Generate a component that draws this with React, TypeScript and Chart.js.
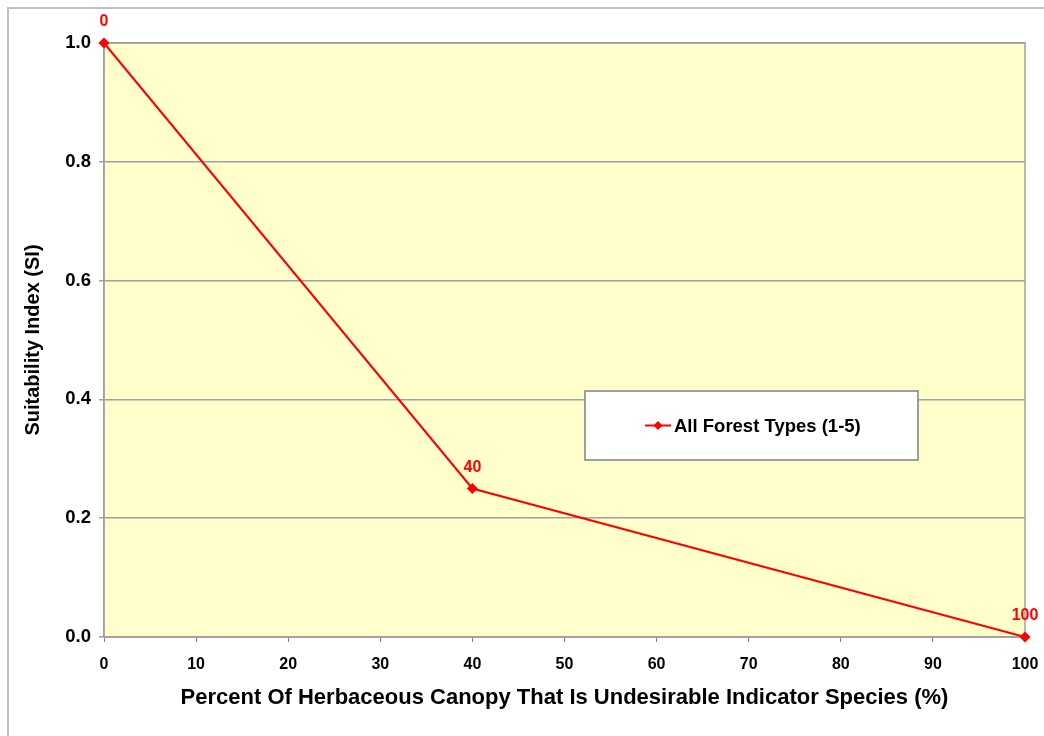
import React, { useEffect, useRef } from "react";
import { Chart, registerables } from "chart.js";

Chart.register(...registerables);

const xValues = [0, 40, 100];
const siValues = [1.0, 0.25, 0.0];
const pointLabels = ["0", "40", "100"];
const seriesName = "All Forest Types (1-5)";
const xTitle = "Percent Of Herbaceous Canopy That Is Undesirable Indicator Species (%)";
const yTitle = "Suitability Index (SI)";

const FONT = "Arial, 'Liberation Sans', sans-serif";
const RED = "#ff0000";

const bgPlugin = {
  id: "plotBg",
  beforeDraw(chart: any) {
    const { ctx, chartArea: a } = chart;
    ctx.save();
    ctx.fillStyle = "#ffffcc";
    ctx.fillRect(a.left, a.top, a.right - a.left, a.bottom - a.top);
    ctx.restore();
  },
  beforeDatasetsDraw(chart: any) {
    const { ctx, chartArea: a } = chart;
    ctx.save();
    ctx.strokeStyle = "#a0a0a0";
    ctx.lineWidth = 1.5;
    ctx.strokeRect(a.left, a.top, a.right - a.left, a.bottom - a.top);
    ctx.restore();
  },
};

const labelPlugin = {
  id: "pointLabels",
  afterDraw(chart: any) {
    const { ctx } = chart;
    const meta = chart.getDatasetMeta(0);
    ctx.save();
    ctx.fillStyle = RED;
    ctx.font = `bold 16px ${FONT}`;
    ctx.textAlign = "center";
    ctx.textBaseline = "bottom";
    meta.data.forEach((p: any, i: number) => {
      ctx.fillText(pointLabels[i], p.x, p.y - 13);
    });
    // legend box
    const a = chart.chartArea;
    const bx = a.left + 481;
    const by = a.top + 348;
    const bw = 333;
    const bh = 69;
    ctx.fillStyle = "#ffffff";
    ctx.fillRect(bx, by, bw, bh);
    ctx.strokeStyle = "#808080";
    ctx.lineWidth = 1.5;
    ctx.strokeRect(bx, by, bw, bh);
    const ly = by + bh / 2;
    ctx.strokeStyle = RED;
    ctx.lineWidth = 2;
    ctx.beginPath();
    ctx.moveTo(bx + 60, ly);
    ctx.lineTo(bx + 86, ly);
    ctx.stroke();
    ctx.fillStyle = RED;
    ctx.beginPath();
    const cx = bx + 73;
    ctx.moveTo(cx, ly - 4.5);
    ctx.lineTo(cx + 4.5, ly);
    ctx.lineTo(cx, ly + 4.5);
    ctx.lineTo(cx - 4.5, ly);
    ctx.closePath();
    ctx.fill();
    ctx.fillStyle = "#000000";
    ctx.font = `bold 18.5px ${FONT}`;
    ctx.textAlign = "left";
    ctx.textBaseline = "middle";
    ctx.fillText(seriesName, bx + 89, ly + 1);
    ctx.restore();
  },
};

export default function App() {
  const ref = useRef<HTMLCanvasElement>(null);
  useEffect(() => {
    if (!ref.current) return;
    const chart = new Chart(ref.current, {
      type: "scatter",
      data: {
        datasets: [
          {
            label: seriesName,
            data: xValues.map((x, i) => ({ x, y: siValues[i] })),
            showLine: true,
            borderColor: RED,
            backgroundColor: RED,
            borderWidth: 2,
            pointStyle: "rectRot",
            pointRadius: 5.5,
            pointBorderWidth: 0,
            clip: false as any,
          },
        ],
      },
      plugins: [bgPlugin, labelPlugin],
      options: {
        animation: false,
        responsive: false,
        layout: { padding: { left: 0, right: 19, top: 43, bottom: 0 } },
        plugins: { legend: { display: false }, tooltip: { enabled: false } },
        scales: {
          x: {
            type: "linear",
            min: 0,
            max: 100,
            ticks: {
              stepSize: 10,
              color: "#000",
              font: { family: FONT, size: 16, weight: "bold" },
              padding: 13,
              maxRotation: 0,
            },
            grid: { drawOnChartArea: false, drawTicks: true, tickLength: 5, color: "#808080" },
            border: { display: true, color: "#a0a0a0", width: 1.5 },
            title: {
              display: true,
              text: xTitle,
              color: "#000",
              font: { family: FONT, size: 22, weight: "bold" },
              padding: { top: 0, bottom: 25 },
            },
            afterFit(scale: any) {
              scale.height = 99;
              scale.paddingLeft = 0;
              scale.paddingRight = 0;
            },
          },
          y: {
            type: "linear",
            min: 0,
            max: 1,
            ticks: {
              stepSize: 0.2,
              color: "#000",
              font: { family: FONT, size: 18.5, weight: "bold" },
              padding: 8,
              callback: (v: any) => Number(v).toFixed(1),
            },
            grid: { drawOnChartArea: true, drawTicks: true, tickLength: 5, color: "#a0a0a0", lineWidth: 1.5 },
            border: { display: true, color: "#a0a0a0", width: 1.5 },
            title: {
              display: true,
              text: yTitle,
              color: "#000",
              font: { family: FONT, size: 20, weight: "bold" },
              padding: { top: 21, bottom: 0 },
            },
            afterFit(scale: any) {
              scale.width = 104;
              scale.paddingTop = 0;
              scale.paddingBottom = 0;
            },
          },
        },
      } as any,
    });
    return () => chart.destroy();
  }, []);
  return (
    <div style={{ position: "absolute", left: 0, top: 0, width: 1044, height: 736, background: "#fff" }}>
      <div
        style={{
          position: "absolute",
          left: 7,
          top: 7,
          width: 1044,
          height: 736,
          borderLeft: "2px solid #c0c0c0",
          borderTop: "2px solid #c0c0c0",
        }}
      />
      <canvas ref={ref} width={1044} height={736} style={{ position: "absolute", left: 0, top: 0 }} />
    </div>
  );
}
